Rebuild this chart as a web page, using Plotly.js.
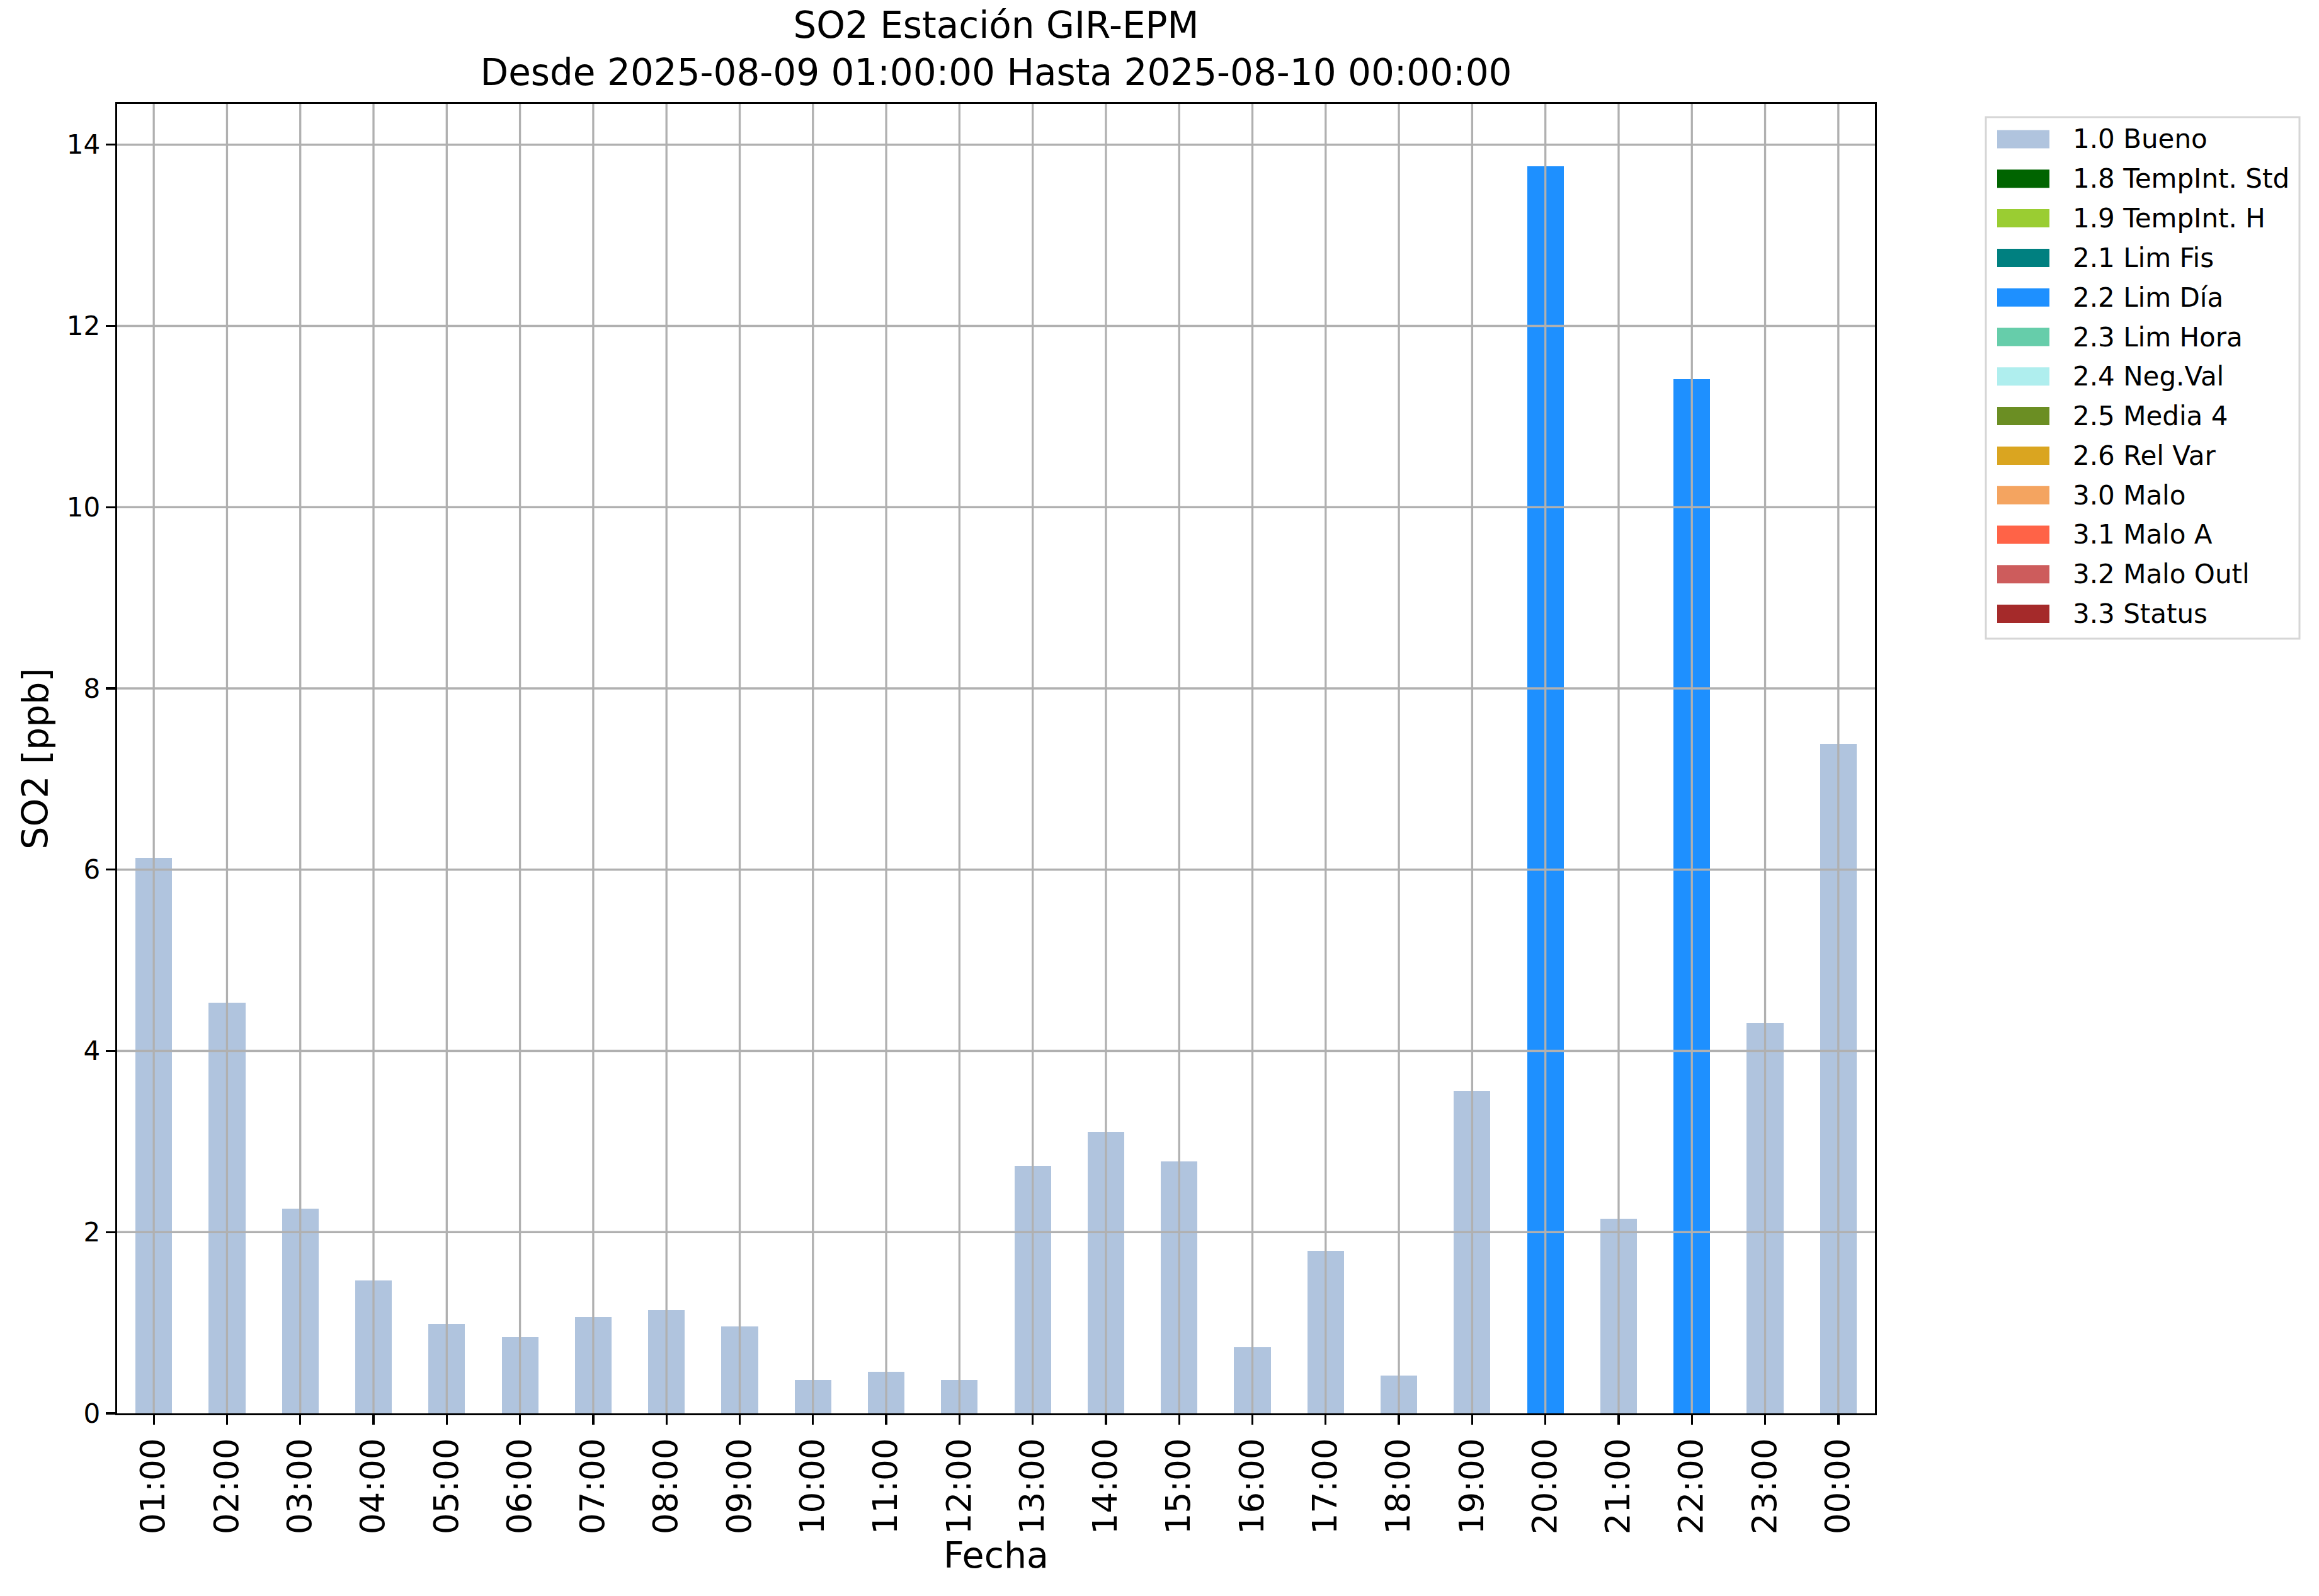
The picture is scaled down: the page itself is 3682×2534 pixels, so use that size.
<!DOCTYPE html>
<html>
<head>
<meta charset="utf-8">
<script src="https://cdn.plot.ly/plotly-3.0.1.min.js"></script>
<style>html,body{margin:0;padding:0;background:#fff;}#chart{width:3682px;height:2534px;}</style>
</head>
<body>
<div id="chart"></div>
<script>
// ---- data ----
const hours = ['01:00','02:00','03:00','04:00','05:00','06:00','07:00','08:00','09:00','10:00','11:00','12:00',
               '13:00','14:00','15:00','16:00','17:00','18:00','19:00','20:00','21:00','22:00','23:00','00:00'];
const so2 = [6.13, 4.53, 2.26, 1.47, 0.99, 0.84, 1.06, 1.14, 0.96, 0.37, 0.46, 0.37,
             2.73, 3.11, 2.78, 0.73, 1.79, 0.42, 3.56, 13.76, 2.15, 11.41, 4.31, 7.39];
const hourFlag = ['1.0 Bueno','1.0 Bueno','1.0 Bueno','1.0 Bueno','1.0 Bueno','1.0 Bueno','1.0 Bueno','1.0 Bueno',
                  '1.0 Bueno','1.0 Bueno','1.0 Bueno','1.0 Bueno','1.0 Bueno','1.0 Bueno','1.0 Bueno','1.0 Bueno',
                  '1.0 Bueno','1.0 Bueno','1.0 Bueno','2.2 Lim Día','1.0 Bueno','2.2 Lim Día','1.0 Bueno','1.0 Bueno'];
const flagNames = ['1.0 Bueno','1.8 TempInt. Std','1.9 TempInt. H','2.1 Lim Fis','2.2 Lim Día','2.3 Lim Hora',
                   '2.4 Neg.Val','2.5 Media 4','2.6 Rel Var','3.0 Malo','3.1 Malo A','3.2 Malo Outl','3.3 Status'];
const flagColors = ['#B0C4DE','#006400','#9ACD32','#008080','#1E90FF','#66CDAA',
                    '#AFEEEE','#6B8E23','#DAA520','#F4A460','#FF6347','#CD5C5C','#A52A2A'];
const yTicks = [0, 2, 4, 6, 8, 10, 12, 14];

// ---- geometry (pixels of the figure) ----
const W = 3682, H = 2534;
const M = {l: 186, r: 705, t: 165, b: 290};
const plotW = W - M.l - M.r, plotH = H - M.t - M.b;
const xp = px => (px - M.l) / plotW;          // figure px -> paper x
const yp = py => (H - M.b - py) / plotH;      // figure px -> paper y

// ---- build traces (one stacked series per quality flag) ----
const traces = flagNames.map((name, k) => ({
  type: 'bar',
  name: name,
  x: hours,
  y: so2.map((v, i) => hourFlag[i] === name ? v : 0),
  width: 0.5,
  marker: {color: flagColors[k], line: {width: 0}},
  showlegend: false,
  hoverinfo: 'x+y+name'
}));

// gridlines drawn above the bars, as in the reference
const gridColor = '#b0b0b0';
const gw = 3.3;
const shapes = [];
hours.forEach((h, i) => shapes.push({type: 'line', layer: 'above', xref: 'x', yref: 'paper',
  x0: i, x1: i, y0: 0, y1: 1, line: {color: gridColor, width: gw}}));
yTicks.filter(t => t > 0).forEach(t => shapes.push({type: 'line', layer: 'above', xref: 'paper', yref: 'y',
  x0: 0, x1: 1, y0: t, y1: t, line: {color: gridColor, width: gw}}));

// ---- legend box (matplotlib style: wide colour patches) ----
const font = 'DejaVu Sans, Liberation Sans, sans-serif';
const leg = {left: 3153, right: 3651, top: 186, bottom: 1014, firstRow: 221, rowGap: 62.8,
             patchL: 3171, patchR: 3254, patchH: 29, textX: 3289};
shapes.push({type: 'rect', layer: 'above', xref: 'paper', yref: 'paper',
  x0: xp(leg.left), x1: xp(leg.right), y0: yp(leg.bottom), y1: yp(leg.top),
  fillcolor: '#ffffff', line: {color: '#d6d6d6', width: 3}});
const annotations = [];
flagNames.forEach((name, k) => {
  const cy = leg.firstRow + k * leg.rowGap;
  shapes.push({type: 'rect', layer: 'above', xref: 'paper', yref: 'paper',
    x0: xp(leg.patchL), x1: xp(leg.patchR), y0: yp(cy + leg.patchH / 2), y1: yp(cy - leg.patchH / 2),
    fillcolor: flagColors[k], line: {width: 0}});
  annotations.push({xref: 'paper', yref: 'paper', x: xp(leg.textX), y: yp(cy),
    xanchor: 'left', yanchor: 'middle', showarrow: false, text: name,
    font: {family: font, size: 42, color: '#000000'}});
});

const layout = {
  width: W, height: H,
  paper_bgcolor: '#ffffff', plot_bgcolor: '#ffffff',
  font: {family: font, color: '#000000', size: 42},
  margin: {l: M.l, r: M.r, t: M.t, b: M.b, pad: 0},
  barmode: 'stack',
  showlegend: false,
  title: {
    text: 'SO2 Estación GIR-EPM<br>Desde 2025-08-09 01:00:00 Hasta 2025-08-10 00:00:00',
    font: {family: font, size: 58, color: '#000000'},
    x: 0.5, xref: 'paper', xanchor: 'center',
    y: 1, yref: 'paper', yanchor: 'bottom', pad: {b: 105}
  },
  xaxis: {
    type: 'category',
    range: [-0.5, hours.length - 0.5],
    showgrid: false, zeroline: false,
    showline: true, mirror: true, linecolor: '#000000', linewidth: gw,
    ticks: 'outside', ticklen: 15, tickwidth: gw, tickcolor: '#000000',
    tickangle: -90,
    tickfont: {family: font, size: 53, color: '#000000'},
    title: {text: 'Fecha', font: {family: font, size: 57, color: '#000000'}, standoff: 10},
    fixedrange: true
  },
  yaxis: {
    range: [0, 14.45],
    tickvals: yTicks,
    ticktext: yTicks.map(String),
    showgrid: false, zeroline: false,
    showline: true, mirror: true, linecolor: '#000000', linewidth: gw,
    ticks: 'outside', ticklen: 15, tickwidth: gw, tickcolor: '#000000',
    tickfont: {family: font, size: 42, color: '#000000'},
    title: {text: 'SO2 [ppb]', font: {family: font, size: 57, color: '#000000'}, standoff: 12},
    fixedrange: true
  },
  shapes: shapes,
  annotations: annotations
};

Plotly.newPlot('chart', traces, layout, {staticPlot: true, displayModeBar: false});
</script>
</body>
</html>
